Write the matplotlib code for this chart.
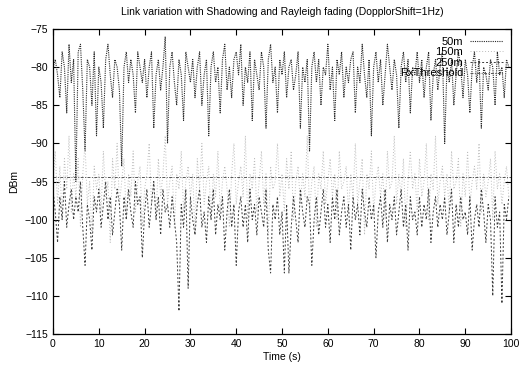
import numpy as np
import matplotlib
matplotlib.use("Agg")
import matplotlib.pyplot as plt

plt.rcParams['font.family'] = ['Liberation Sans', 'DejaVu Sans']

dt = 0.5
rss_50m = [
    -80, -79, -81, -84, -78, -80, -86, -77, -82, -79,
    -95, -78, -77, -83, -91, -79, -80, -85, -78, -89,
    -80, -82, -88, -79, -77, -81, -84, -79, -80, -83,
    -93, -80, -78, -82, -79, -81, -86, -78, -80, -82,
    -79, -84, -80, -78, -88, -81, -79, -83, -80, -76,
    -90, -80, -78, -82, -85, -79, -81, -87, -78, -80,
    -82, -79, -84, -80, -78, -85, -81, -79, -89, -80,
    -78, -82, -80, -86, -79, -77, -83, -80, -84, -79,
    -78, -81, -77, -85, -80, -82, -78, -87, -79, -81,
    -83, -78, -80, -88, -79, -77, -82, -80, -86, -79,
    -81, -78, -84, -80, -79, -83, -81, -78, -88, -80,
    -82, -79, -91, -80, -78, -82, -79, -85, -80, -81,
    -77, -83, -80, -87, -79, -81, -78, -84, -80, -82,
    -79, -78, -86, -80, -82, -77, -81, -84, -79, -89,
    -80, -78, -82, -79, -85, -81, -77, -80, -83, -79,
    -81, -88, -80, -78, -82, -79, -86, -80, -81, -78,
    -82, -79, -84, -80, -78, -87, -81, -79, -83, -80,
    -78, -90, -80, -82, -79, -85, -81, -78, -80, -84,
    -79, -81, -86, -80, -78, -82, -79, -88, -80, -81,
    -83, -79, -80, -85, -78, -81, -80, -84, -79, -80,
]
rss_150m = [
    -95, -91, -98, -93, -100, -92, -96, -89, -99, -94,
    -97, -92, -101, -94, -90, -98, -95, -102, -93, -96,
    -94, -99, -91, -97, -95, -103, -92, -96, -90, -98,
    -95, -92, -100, -94, -97, -91, -99, -95, -93, -101,
    -96, -94, -90, -98, -95, -100, -92, -97, -94, -89,
    -98, -95, -93, -101, -94, -96, -91, -99, -95, -93,
    -97, -94, -102, -92, -96, -90, -98, -95, -93, -100,
    -94, -97, -91, -99, -95, -93, -96, -101, -94, -90,
    -98, -95, -93, -97, -89, -100, -94, -96, -92, -99,
    -95, -91, -98, -94, -102, -93, -96, -95, -90, -97,
    -94, -99, -92, -96, -91, -100, -95, -93, -98, -94,
    -97, -89, -99, -95, -93, -101, -94, -96, -91, -98,
    -95, -92, -97, -94, -100, -91, -96, -95, -93, -99,
    -94, -97, -90, -98, -95, -92, -102, -94, -96, -91,
    -99, -95, -93, -97, -94, -100, -91, -96, -95, -89,
    -98, -94, -97, -92, -101, -95, -91, -96, -94, -99,
    -92, -97, -95, -90, -100, -94, -96, -89, -98, -95,
    -93, -97, -94, -99, -91, -96, -95, -92, -101, -94,
    -97, -91, -98, -95, -93, -96, -90, -99, -94, -97,
    -95, -92, -100, -91, -96, -94, -98, -95, -93, -97,
]
rss_250m = [
    -96, -99, -103, -97, -100, -95, -101, -98, -96, -100,
    -97, -99, -95, -101, -106, -98, -100, -104, -97, -99,
    -96, -101, -98, -95, -100, -97, -102, -99, -96, -98,
    -104, -97, -100, -96, -99, -101, -95, -98, -97, -105,
    -99, -96, -101, -98, -95, -100, -97, -102, -96, -99,
    -98, -101, -97, -100, -103, -112, -98, -101, -96, -109,
    -97, -100, -102, -98, -96, -101, -99, -103, -97, -100,
    -96, -102, -98, -100, -97, -104, -99, -96, -101, -98,
    -106, -99, -97, -101, -98, -103, -96, -100, -98, -102,
    -97, -99, -101, -96, -104, -107, -98, -100, -97, -102,
    -99, -107, -98, -107, -101, -97, -100, -103, -96, -99,
    -101, -97, -98, -106, -100, -97, -102, -99, -96, -101,
    -98, -103, -97, -100, -96, -102, -99, -97, -101, -98,
    -104, -97, -100, -98, -102, -96, -99, -101, -97, -100,
    -98, -105, -99, -97, -101, -96, -103, -98, -100, -97,
    -102, -99, -96, -101, -98, -104, -97, -100, -99, -102,
    -97, -101, -98, -100, -96, -103, -99, -97, -101, -98,
    -100, -97, -102, -99, -96, -103, -98, -101, -97, -100,
    -99, -102, -97, -104, -100, -98, -101, -96, -99, -103,
    -98, -100, -110, -97, -101, -99, -111, -98, -100, -97,
]
rx_threshold = -94.4
x_ticks = [0, 10, 20, 30, 40, 50, 60, 70, 80, 90, 100]
y_ticks = [-75, -80, -85, -90, -95, -100, -105, -110, -115]

t = np.arange(len(rss_50m)) * dt

fig = plt.figure(figsize=(5.21, 3.70), dpi=100)
ax = fig.add_axes([0.1017, 0.0973, 0.8793, 0.8243])

ax.plot(t, rss_50m, color='#2a2a2a', lw=0.8, ls=(0, (1, 1)), label='50m')
ax.plot(t, rss_150m, color='#bdbdbd', lw=0.7, ls=(0, (1, 2)), label='150m')
ax.plot(t, rss_250m, color='#3c3c3c', lw=0.7, ls=(0, (2, 2)), label='250m')
ax.plot([t[0], 100], [rx_threshold, rx_threshold], color='#555555', lw=0.7,
        ls=(0, (3, 1.5, 1, 1.5)), label='RxThreshold')

ax.set_xlim(0, 100)
ax.set_ylim(-115, -75)
ax.set_xticks(x_ticks)
ax.set_yticks(y_ticks)
ax.tick_params(direction='in', length=4, width=0.8, labelsize=7.5,
               top=True, right=True, colors='black')
for s in ax.spines.values():
    s.set_linewidth(0.9)
ax.set_xlabel('Time (s)', fontsize=7.5, labelpad=2)
ax.set_ylabel('DBm', fontsize=7.5, labelpad=4)
ax.set_title('Link variation with Shadowing and Rayleigh fading (DopplorShift=1Hz)',
             fontsize=7.5, pad=10)
leg = ax.legend(loc='upper right', frameon=False, markerfirst=False,
                fontsize=8, handlelength=3.0, labelspacing=0.05,
                borderaxespad=0.3, handletextpad=0.6)

fig.savefig('out.png', dpi=100)
